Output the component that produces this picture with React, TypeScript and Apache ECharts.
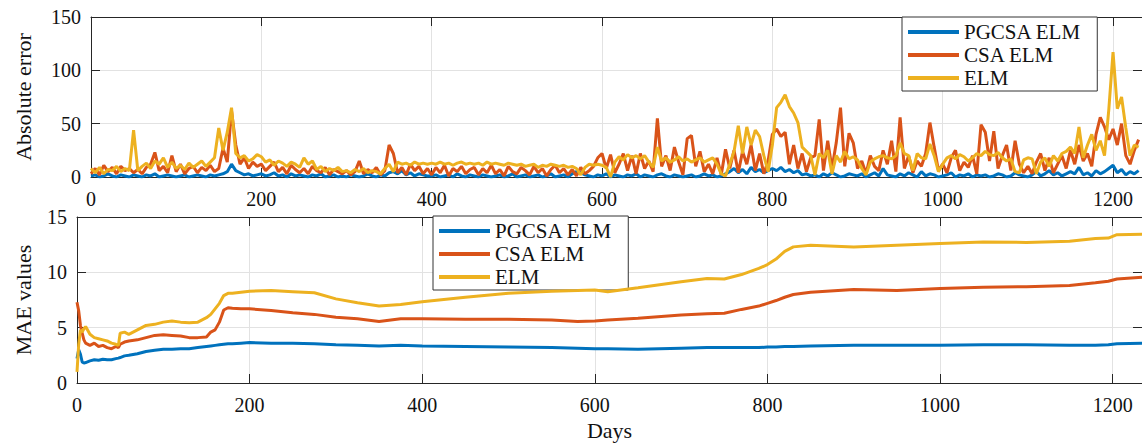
import React, { useEffect, useRef } from "react";
import * as echarts from "echarts";

// ---------- data ----------
const seriesNames = ["PGCSA ELM", "CSA ELM", "ELM"];
const colors = ["#0072BD", "#D95319", "#EDB120"];

// absolute error sampled every 5 days (day = index * 5)
const errStepDays = 5;
const errPGCSA = [
  1, 2, 0, 1, 3, 1, 0, 2, 1, 0,
  2, 1, 0, 2, 1, 3, 0, 1, 2, 1,
  0, 1, 2, 0, 1, 2, 1, 0, 2, 1,
  2, 3, 5, 12, 6, 4, 2, 3, 1, 2,
  3, 1, 2, 4, 1, 2, 0, 3, 1, 2,
  1, 0, 2, 1, 3, 0, 1, 2, 0, 1,
  0, 2, 1, 0, 1, 3, 1, 0, 2, 1,
  4, 5, 3, 6, 2, 4, 1, 3, 2, 1,
  1, 2, 0, 1, 2, 0, 3, 1, 0, 2,
  1, 0, 2, 1, 0, 1, 2, 0, 1, 3,
  0, 1, 2, 0, 1, 2, 0, 1, 3, 0,
  1, 2, 0, 3, 5, 4, 2, 1, 0, 2,
  1, 3, 0, 2, 1, 0, 2, 1, 3, 0,
  2, 1, 0, 2, 3, 1, 0, 2, 1, 0,
  1, 2, 0, 1, 3, 1, 2, 0, 1, 3,
  5, 8, 4, 7, 3, 9, 5, 7, 4, 6,
  8, 6, 9, 5, 7, 4, 6, 2, 3, 1,
  2, 0, 3, 1, 4, 2, 0, 1, 3, 2,
  1, 3, 0, 2, 4, 1, 8, 2, 1, 0,
  3, 1, 4, 2, 0, 5, 1, 3, 2, 0,
  1, 2, 4, 0, 2, 1, 3, 0, 2, 1,
  2, 0, 1, 3, 2, 0, 1, 4, 2, 1,
  0, 2, 5, 1, 3, 6, 2, 4, 1, 3,
  5, 3, 9, 2, 4, 1, 6, 3, 5, 8,
  11, 4, 7, 2, 5, 3, 6,
];
const errCSA = [
  3, 8, 2, 11, 5, 9, 3, 10, 6, 8,
  4, 7, 3, 9, 12, 23, 6, 10, 4, 20,
  5, 12, 3, 8, 10, 4, 9, 6, 11, 5,
  8, 27, 14, 62, 30, 12, 18, 8, 14, 10,
  12, 6, 10, 14, 5, 9, 3, 11, 7, 4,
  8, 3, 10, 6, 4, 9, 2, 7, 5, 3,
  6, 2, 5, 15, 3, 7, 4, 9, 2, 6,
  30, 22, 4, 9, 2, 12, 6, 10, 3, 8,
  2, 9, 4, 11, 1, 8, 5, 10, 3, 7,
  9, 2, 8, 4, 11, 3, 7, 1, 10, 5,
  3, 9, 6, 2, 10, 4, 8, 1, 7, 11,
  4, 8, 2, 7, 1, 9, 3, 6, 10, 18,
  22, 8, 21, 4, 12, 22, 6, 20, 3, 22,
  8, 15, 5, 55, 10, 20, 6, 28, 14, 2,
  36, 39, 10, 24, 5, 12, 3, 18, 2, 26,
  8, 25, 4, 24, 12, 30, 6, 22, 3, 15,
  40, 45, 38, 42, 12, 30, 8, 22, 5, 18,
  20, 54, 6, 34, 8, 32, 65, 10, 41, 32,
  8, 15, 3, 20, 10, 6, 25, 12, 34, 5,
  56, 8, 20, 4, 15, 10, 22, 51, 28, 6,
  12, 4, 18, 25, 6, 14, 9, 20, 3, 49,
  42, 15, 43, 8, 20, 30, 6, 34, 12, 4,
  10, 3, 14, 22, 6, 18, 4, 12, 20, 8,
  25, 12, 30, 15, 22, 10, 40, 56, 47, 35,
  45, 30, 50, 20, 12, 25, 35,
];
const errELM = [
  8, 4, 9, 3, 7, 6, 10, 5, 8, 6,
  44, 6, 10, 13, 8, 15, 12, 18, 9, 14,
  8, 11, 7, 13, 9, 12, 15, 10, 14, 18,
  46, 25, 42, 65, 22, 18, 20, 15, 17, 21,
  19, 14, 16, 11, 15, 13, 10, 14, 12, 9,
  18, 12, 15, 7, 10, 5, 8, 6, 9, 5,
  6, 4, 7, 5, 8, 4, 6, 5, 3, 8,
  12, 5, 14, 12, 13, 11, 14, 12, 13, 12,
  13, 12, 14, 12, 13, 11, 13, 14, 12, 13,
  12, 13, 11, 14, 12, 13, 12, 11, 13, 12,
  11, 12, 10, 11, 12, 9, 11, 10, 12, 11,
  10, 11, 9, 10, 8, 2, 9, 12, 11, 12,
  11, 9, 0, 14, 19, 16, 21, 18, 20, 17,
  20, 14, 9, 28, 15, 18, 14, 16, 19, 15,
  17, 14, 16, 18, 14, 16, 18, 12, 3, 1,
  12, 24, 48, 22, 47, 30, 44, 38, 20, 5,
  30, 65, 70, 77, 66, 60, 51, 28, 24, 20,
  2, 22, 18, 25, 3, 20, 14, 24, 17, 19,
  16, 8, 2, 14, 17, 19, 20, 18, 17, 20,
  32, 22, 20, 6, 22, 18, 17, 31, 20, 5,
  12, 18, 20, 17, 21, 19, 15, 18, 22, 20,
  24, 21, 20, 23, 18, 15, 17, 5, 4, 16,
  18, 17, 3, 14, 18, 10, 20, 15, 22, 24,
  28, 22, 47, 18, 30, 40, 25, 34, 20, 63,
  117, 64, 75, 46, 20, 30, 28,
];

// MAE values sampled at these days
const maeDays = [
  0, 2, 4, 6, 8, 10, 15, 20, 25, 30, 35, 40, 45, 48, 50, 55, 60, 70, 80, 90,
  100, 110, 120, 130, 140, 150, 155, 160, 165, 170, 175, 180, 190, 200, 225,
  250, 275, 300, 325, 350, 375, 400, 450, 500, 550, 580, 600, 615, 650, 700,
  730, 750, 770, 790, 800, 810, 820, 830, 850, 900, 950, 1000, 1050, 1100,
  1150, 1180, 1195, 1205, 1234,
];
const maePGCSA = [
  2.2, 3.0, 2.6, 1.9, 1.8, 1.85, 2.0, 2.1, 2.05, 2.15, 2.1, 2.1, 2.2, 2.25, 2.3, 2.45, 2.5, 2.65, 2.85, 2.95,
  3.05, 3.05, 3.1, 3.1, 3.2, 3.3, 3.35, 3.4, 3.45, 3.5, 3.55, 3.55, 3.6, 3.65, 3.6,
  3.6, 3.55, 3.45, 3.4, 3.35, 3.4, 3.35, 3.3, 3.25, 3.2, 3.15, 3.1, 3.1, 3.05, 3.15,
  3.2, 3.2, 3.2, 3.2, 3.25, 3.25, 3.3, 3.3, 3.35, 3.4, 3.4, 3.4, 3.45, 3.45,
  3.4, 3.4, 3.45, 3.55, 3.6,
];
const maeCSA = [
  7.3, 6.5, 5.2, 4.5, 3.9, 3.6, 3.4, 3.6, 3.3, 3.4, 3.2, 3.1, 3.3, 3.2, 3.5, 3.7, 3.8, 3.9, 4.1, 4.3,
  4.35, 4.3, 4.25, 4.1, 4.1, 4.15, 4.6, 4.8, 5.5, 6.6, 6.8, 6.75, 6.7, 6.7, 6.55,
  6.35, 6.2, 5.95, 5.8, 5.55, 5.8, 5.8, 5.75, 5.75, 5.7, 5.55, 5.6, 5.7, 5.85, 6.15,
  6.25, 6.3, 6.65, 6.95, 7.2, 7.45, 7.75, 8.0, 8.2, 8.45, 8.35, 8.55, 8.65, 8.7,
  8.8, 9.05, 9.2, 9.4, 9.55,
];
const maeELM = [
  1.0, 3.5, 4.8, 4.6, 4.9, 5.1, 4.4, 4.1, 4.0, 3.9, 3.8, 3.6, 3.5, 3.4, 4.5, 4.6, 4.4, 4.8, 5.2, 5.3,
  5.5, 5.6, 5.5, 5.45, 5.5, 5.9, 6.2, 6.7, 7.2, 7.9, 8.1, 8.1, 8.2, 8.3, 8.35,
  8.25, 8.15, 7.6, 7.25, 6.95, 7.1, 7.35, 7.75, 8.1, 8.3, 8.35, 8.4, 8.25, 8.6, 9.15,
  9.45, 9.4, 9.8, 10.35, 10.7, 11.2, 11.9, 12.3, 12.45, 12.3, 12.45, 12.6, 12.75, 12.7,
  12.8, 13.05, 13.1, 13.4, 13.45,
];

const xMax = 1234;
const xInterval = 200;
const errMax = 150;
const errInterval = 50;
const maeMax = 15;
const maeInterval = 5;

// ---------- styling ----------
const FONT = "'Liberation Serif', 'Times New Roman', serif";
const AXIS = "#262626";
const GRID = "#e2e2e2";

function errPairs(vals: number[]) {
  return vals.map((v, i) => [i * errStepDays, v]);
}
function maePairs(vals: number[]) {
  return vals.map((v, i) => [maeDays[i], v]);
}

function xAxisMain(gridIndex: number, name?: string) {
  return {
    type: "value",
    gridIndex,
    position: "bottom",
    min: 0,
    max: xMax,
    interval: xInterval,
    axisLine: { show: true, onZero: false, lineStyle: { color: AXIS, width: 1 } },
    axisTick: { show: true, inside: true, length: 9, lineStyle: { color: AXIS } },
    axisLabel: {
      show: true,
      margin: 12,
      color: "#111",
      fontFamily: FONT,
      fontSize: 20,
      showMaxLabel: false,
      formatter: (v: number) => (v % xInterval === 0 ? String(v) : ""),
    },
    splitLine: { show: true, lineStyle: { color: GRID, width: 1 } },
    name: name || "",
    nameLocation: "middle",
    nameGap: 36,
    nameTextStyle: { fontFamily: FONT, fontSize: 22, color: "#111" },
  };
}
function xAxisTop(gridIndex: number) {
  return {
    type: "value",
    gridIndex,
    position: "top",
    min: 0,
    max: xMax,
    interval: xInterval,
    axisLine: { show: true, onZero: false, lineStyle: { color: AXIS, width: 1 } },
    axisTick: { show: true, inside: true, length: 9, lineStyle: { color: AXIS } },
    axisLabel: { show: false },
    splitLine: { show: false },
  };
}
function yAxisMain(gridIndex: number, max: number, interval: number, name: string, nameGap: number) {
  return {
    type: "value",
    gridIndex,
    position: "left",
    min: 0,
    max,
    interval,
    axisLine: { show: true, onZero: false, lineStyle: { color: AXIS, width: 1 } },
    axisTick: { show: true, inside: true, length: 9, lineStyle: { color: AXIS } },
    axisLabel: { show: true, margin: 10, color: "#111", fontFamily: FONT, fontSize: 20 },
    splitLine: { show: true, lineStyle: { color: GRID, width: 1 } },
    name,
    nameLocation: "middle",
    nameGap,
    nameRotate: 90,
    nameTextStyle: { fontFamily: FONT, fontSize: 22, color: "#111" },
  };
}
function yAxisRight(gridIndex: number, max: number, interval: number) {
  return {
    type: "value",
    gridIndex,
    position: "right",
    min: 0,
    max,
    interval,
    axisLine: { show: true, onZero: false, lineStyle: { color: AXIS, width: 1 } },
    axisTick: { show: true, inside: true, length: 9, lineStyle: { color: AXIS } },
    axisLabel: { show: false },
    splitLine: { show: false },
  };
}

function legendBox(left: number, top: number) {
  return {
    orient: "vertical",
    left,
    top,
    data: seriesNames,
    icon: "rect",
    itemWidth: 51,
    itemHeight: 4,
    itemGap: 1,
    padding: [4, 16, 2, 6],
    borderColor: "#333",
    borderWidth: 1,
    backgroundColor: "#fff",
    itemStyle: { borderWidth: 0 },
    textStyle: { fontFamily: FONT, fontSize: 21, color: "#111", lineHeight: 22 },
    selectedMode: false,
  };
}

export default function App() {
  const ref = useRef<HTMLDivElement>(null);
  useEffect(() => {
    if (!ref.current) return;
    const chart = echarts.init(ref.current, undefined, { renderer: "svg" });
    const errData = [errPGCSA, errCSA, errELM];
    const maeData = [maePGCSA, maeCSA, maeELM];
    const series: any[] = [];
    seriesNames.forEach((n, i) => {
      series.push({
        type: "line",
        name: n,
        xAxisIndex: 0,
        yAxisIndex: 0,
        data: errPairs(errData[i]),
        showSymbol: false,
        symbol: "none",
        color: colors[i],
        itemStyle: { color: colors[i] },
        lineStyle: { color: colors[i], width: 3 },
        z: 2 + i,
      });
    });
    seriesNames.forEach((n, i) => {
      series.push({
        type: "line",
        name: n,
        xAxisIndex: 2,
        yAxisIndex: 2,
        data: maePairs(maeData[i]),
        showSymbol: false,
        symbol: "none",
        color: colors[i],
        itemStyle: { color: colors[i] },
        lineStyle: { color: colors[i], width: 3 },
        z: 2 + i,
      });
    });
    chart.setOption({
      animation: false,
      backgroundColor: "#fff",
      textStyle: { fontFamily: FONT },
      grid: [
        { left: 91, top: 17, right: -1, height: 160, containLabel: false },
        { left: 77, top: 217, right: -1, height: 166, containLabel: false },
      ],
      xAxis: [xAxisMain(0), xAxisTop(0), xAxisMain(1, "Days"), xAxisTop(1)],
      yAxis: [
        yAxisMain(0, errMax, errInterval, "Absolute error", 57),
        yAxisRight(0, errMax, errInterval),
        yAxisMain(1, maeMax, maeInterval, "MAE values", 43),
        yAxisRight(1, maeMax, maeInterval),
      ],
      legend: [legendBox(902, 17), legendBox(433, 216)],
      series,
    });
    return () => chart.dispose();
  }, []);
  return (
    <div
      ref={ref}
      style={{ position: "fixed", left: 0, top: 0, width: 1142, height: 444, background: "#fff" }}
    />
  );
}
